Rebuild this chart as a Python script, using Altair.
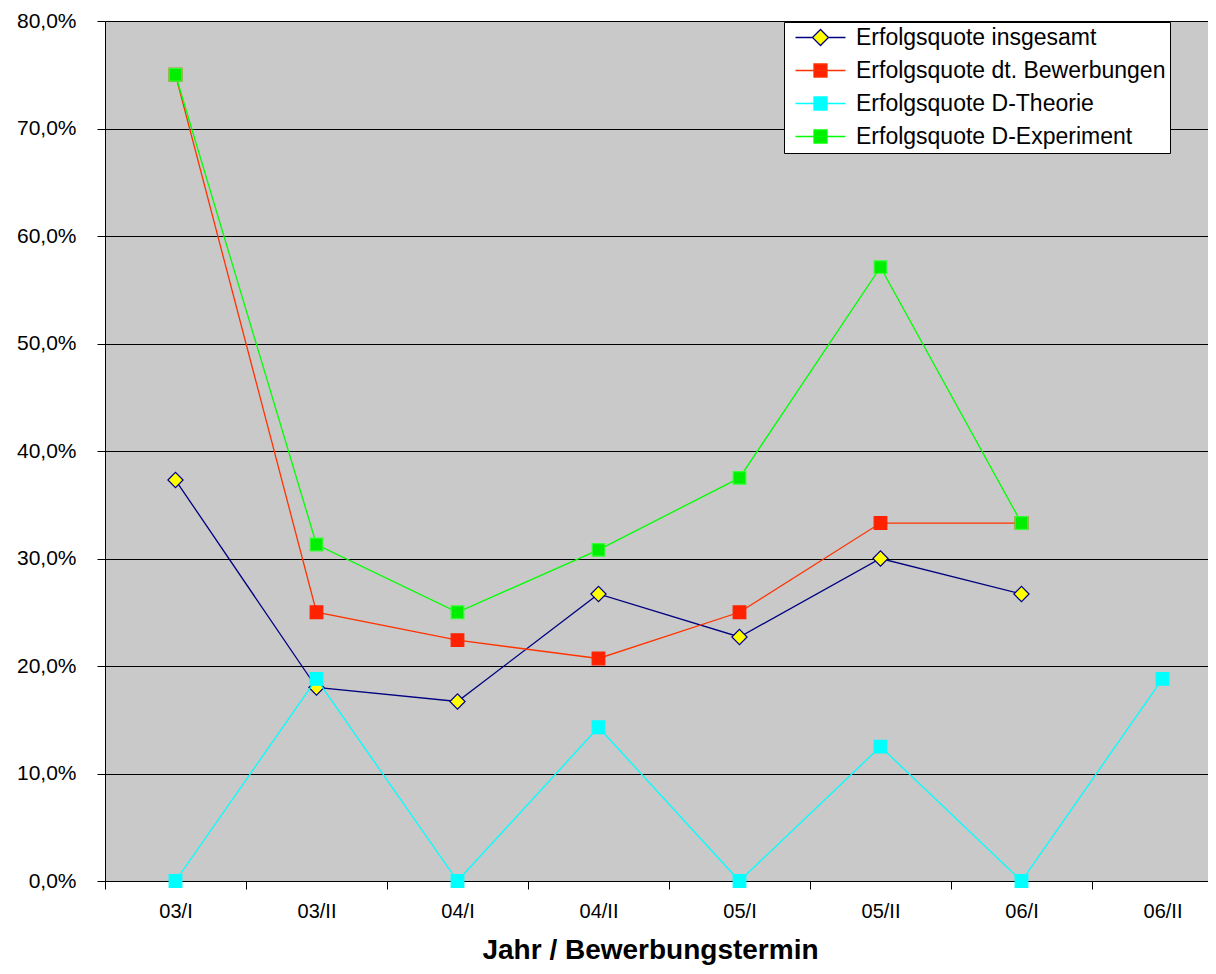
import altair as alt
import pandas as pd

categories = ["03/I", "03/II", "04/I", "04/II", "05/I", "05/II", "06/I", "06/II"]
series_names = [
    "Erfolgsquote insgesamt",
    "Erfolgsquote dt. Bewerbungen",
    "Erfolgsquote D-Theorie",
    "Erfolgsquote D-Experiment",
]
insgesamt = [37.3, 18.0, 16.7, 26.7, 22.7, 30.0, 26.7, None]
dt_bewerbungen = [75.0, 25.0, 22.4, 20.7, 25.0, 33.3, 33.3, None]
d_theorie = [0.0, 18.8, 0.0, 14.3, 0.0, 12.5, 0.0, 18.8]
d_experiment = [75.0, 31.3, 25.0, 30.8, 37.5, 57.1, 33.3, None]
y_ticks = [0, 10, 20, 30, 40, 50, 60, 70, 80]

line_colors = ["#000080", "#ff3300", "#00ffff", "#00ff00"]
fill_colors = ["#ffff00", "#ff2200", "#00ffff", "#00ee00"]
marker_strokes = ["#000080", "#ff2200", "#00ffff", "#33ff33"]
marker_shapes = ["diamond", "square", "square", "square"]
marker_sizes = [230, 160, 160, 160]

# legend symbols (unit = 10 px): short line with marker in the middle
legend_paths = [
    "M-2.5,0H-0.8M0.8,0H2.5M-0.8,0L0,-0.8L0.8,0L0,0.8Z",
    "M-2.5,0H2.5M-0.65,-0.65H0.65V0.65H-0.65Z",
    "M-2.5,0H2.5M-0.65,-0.65H0.65V0.65H-0.65Z",
    "M-2.5,0H2.5M-0.65,-0.65H0.65V0.65H-0.65Z",
]

all_series = [insgesamt, dt_bewerbungen, d_theorie, d_experiment]
rows = []
for name, vals in zip(series_names, all_series):
    for i, (cat, v) in enumerate(zip(categories, vals)):
        if v is not None:
            rows.append({"idx": i, "cat": cat, "series": name, "value": v})
df = pd.DataFrame(rows)

FONT = "Liberation Sans"
cats_js = "[" + ",".join("'" + c + "'" for c in categories) + "]"

PLOT_W = 1103
STEP = 141.0
x_max = -0.5 + PLOT_W / STEP

x_enc = alt.X(
    "idx:Q",
    scale=alt.Scale(domain=[-0.5, x_max], nice=False, zero=False),
    axis=alt.Axis(
        values=[i - 0.5 for i in range(len(categories))],
        labelExpr=cats_js + "[datum.value + 0.5]",
        labelOffset=STEP / 2,
        labelFlush=False,
        labelOverlap=False,
        labelBound=False,
        labelFont=FONT,
        labelFontSize=20,
        labelColor="black",
        labelPadding=12,
        tickSize=8,
        tickColor="black",
        domainColor="black",
        grid=False,
        title="Jahr / Bewerbungstermin",
        titleFont=FONT,
        titleFontSize=28,
        titleFontWeight="bold",
        titleColor="black",
        titleX=545,
        titleY=77,
        titleBaseline="alphabetic",
        titleAlign="center",
        titleAnchor="start",
    ),
)
y_enc = alt.Y(
    "value:Q",
    scale=alt.Scale(domain=[0, 80], nice=False, zero=True),
    axis=alt.Axis(
        values=y_ticks,
        labelExpr="replace(format(datum.value, '.1f'), '.', ',') + '%'",
        labelFont=FONT,
        labelFontSize=21,
        labelColor="black",
        labelPadding=21,
        tickSize=8,
        tickColor="black",
        domainColor="black",
        grid=True,
        gridColor="black",
        gridWidth=1,
        gridOpacity=1,
        title=None,
    ),
)

layers = []
for k, name in enumerate(series_names):
    sub = alt.Chart(df).transform_filter(alt.datum.series == name)
    layers.append(
        sub.mark_line(color=line_colors[k], strokeWidth=1.3).encode(x=x_enc, y=y_enc)
    )
    layers.append(
        sub.mark_point(
            shape=marker_shapes[k],
            filled=True,
            fill=fill_colors[k],
            stroke=marker_strokes[k],
            strokeWidth=1.2,
            size=marker_sizes[k],
            opacity=1,
        ).encode(x=x_enc, y=y_enc)
    )

leg = alt.Legend(
    title=None,
    orient="none",
    legendX=679,
    legendY=1,
    fillColor="white",
    strokeColor="black",
    padding=4,
    rowPadding=9,
    labelFont=FONT,
    labelFontSize=23,
    labelColor="black",
    labelOffset=24,
    labelLimit=0,
    symbolSize=400,
    symbolOffset=21,
    symbolStrokeWidth=1.3,
)
legend_layer = (
    alt.Chart(df)
    .transform_filter("false")
    .mark_point(filled=True, opacity=1, size=400)
    .encode(
        shape=alt.Shape("series:N", scale=alt.Scale(domain=series_names, range=legend_paths), legend=leg),
        fill=alt.Fill("series:N", scale=alt.Scale(domain=series_names, range=fill_colors), legend=leg),
        stroke=alt.Stroke("series:N", scale=alt.Scale(domain=series_names, range=line_colors), legend=leg),
    )
)
layers.append(legend_layer)

chart = (
    alt.layer(*layers)
    .properties(
        width=PLOT_W,
        height=860,
        autosize=alt.AutoSizeParams(type="none"),
        padding={"left": 97, "top": 13, "right": 0, "bottom": 85},
        background="white",
        view=alt.ViewBackground(fill="#c9c9c9", strokeWidth=0),
    )
    .configure_view(fill="#c9c9c9", strokeWidth=0)
)

chart.save("out.html", embed_options={"renderer": "svg", "actions": False})
